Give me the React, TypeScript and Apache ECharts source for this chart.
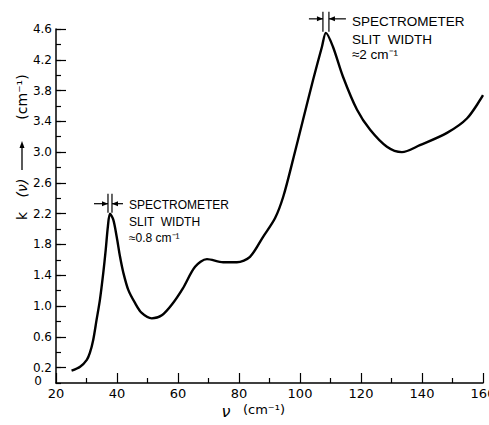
import React, { useEffect, useRef } from "react";
import * as echarts from "echarts";

const nu = [25.1, 27.9, 30.1, 31.1, 32.2, 33.3, 34.4, 35.5, 36.3, 37.0, 37.7, 38.8, 39.9, 41.0, 42.1, 43.7, 45.9, 48.1, 51.4, 54.7, 58.0, 61.6, 65.6, 69.5, 74.8, 79.3, 83.6, 87.9, 91.8, 94.5, 97.7, 101.0, 104.3, 107.2, 108.5, 110.8, 114.1, 118.7, 123.0, 128.5, 133.4, 139.3, 148.2, 154.8, 160.0];
const kNu = [0.16, 0.21, 0.30, 0.39, 0.56, 0.82, 1.08, 1.43, 1.73, 2.03, 2.2, 2.12, 1.9, 1.64, 1.43, 1.21, 1.04, 0.91, 0.84, 0.88, 1.02, 1.23, 1.51, 1.61, 1.57, 1.57, 1.64, 1.9, 2.14, 2.42, 2.9, 3.42, 3.94, 4.37, 4.55, 4.37, 3.98, 3.55, 3.29, 3.07, 3.0, 3.09, 3.25, 3.44, 3.74];

const yLabelValues = [0, 0.2, 0.6, 1.0, 1.4, 1.8, 2.2, 2.6, 3.0, 3.4, 3.8, 4.2, 4.6];
const yMajorTicks = [0.2, 0.6, 1.0, 1.4, 1.8, 2.2, 2.6, 3.0, 3.4, 3.8, 4.2, 4.6];

const peak1 = [37.7, 2.2];
const peak2 = [108.5, 4.55];
const note1 = ["SPECTROMETER", "SLIT  WIDTH", "≈0.8 cm⁻¹"];
const note2 = ["SPECTROMETER", "SLIT  WIDTH", "≈2 cm⁻¹"];

const FONT = "DejaVu Sans";
const AFONT = "Liberation Sans";

function slitMarker(px: number[], gap: number, drop: number, arrowY: number, lLen: number, rLen: number, textX: number, textYs: number[], lines: string[], fs: number) {
  const [x, y] = px;
  const els: any[] = [];
  const ls = { stroke: "#000", lineWidth: 1.2 };
  els.push({ type: "line", shape: { x1: x - gap, y1: y - drop, x2: x - gap, y2: y - 1 }, style: ls });
  els.push({ type: "line", shape: { x1: x + gap, y1: y - drop, x2: x + gap, y2: y - 1 }, style: ls });
  const ay = y + arrowY;
  els.push({ type: "line", shape: { x1: x - gap - lLen, y1: ay, x2: x - gap, y2: ay }, style: ls });
  els.push({ type: "line", shape: { x1: x + gap, y1: ay, x2: x + gap + rLen, y2: ay }, style: ls });
  els.push({ type: "polygon", shape: { points: [[x - gap, ay], [x - gap - 6, ay - 2.5], [x - gap - 6, ay + 2.5]] }, style: { fill: "#000" } });
  els.push({ type: "polygon", shape: { points: [[x + gap, ay], [x + gap + 6, ay - 2.5], [x + gap + 6, ay + 2.5]] }, style: { fill: "#000" } });
  lines.forEach((t, i) => {
    els.push({
      type: "text",
      x: x + textX,
      y: y + textYs[i],
      style: { text: t, fill: "#000", font: `${fs}px "${AFONT}"`, textAlign: "left", textVerticalAlign: "middle" },
    });
  });
  return els;
}

export default function App() {
  const ref = useRef<HTMLDivElement>(null);
  useEffect(() => {
    const chart = echarts.init(ref.current!, null, { renderer: "svg" });
    const option: any = {
      animation: false,
      backgroundColor: "#fff",
      grid: { left: 56, right: 6, top: 29, bottom: 42, containLabel: false, outerBoundsMode: "none" },
      xAxis: {
        type: "value",
        min: 20,
        max: 160,
        interval: 20,
        axisLine: { lineStyle: { color: "#000", width: 1.5 } },
        axisTick: { inside: true, length: 10, lineStyle: { color: "#000", width: 1.2 } },
        minorTick: { show: true, splitNumber: 2, length: 5, lineStyle: { color: "#000", width: 1.2 } },
        axisLabel: { color: "#000", fontSize: 13, fontFamily: FONT, margin: 4, hideOverlap: false },
        splitLine: { show: false },
      },
      yAxis: [
        {
          type: "value",
          min: 0,
          max: 4.6,
          interval: 0.2,
          axisLine: { show: true, lineStyle: { color: "#000", width: 1.5 } },
          axisTick: { inside: true, length: 10, customValues: yMajorTicks, lineStyle: { color: "#000", width: 1.2 } },
          axisLabel: {
            color: "#000",
            fontSize: 12,
            lineHeight: 13,
            fontFamily: FONT,
            margin: 4,
            customValues: yLabelValues,
            formatter: (v: number) => (v === 0 ? "{z|0}" : v.toFixed(1)),
            rich: {
              z: { fontSize: 12, lineHeight: 12, fontFamily: FONT, color: "#000", padding: [0, 10, 5, 0] },
            },
          },
          splitLine: { show: false },
        },
        {
          type: "value",
          position: "left",
          min: 0,
          max: 4.6,
          interval: 0.2,
          axisLine: { show: false },
          axisTick: { show: true, inside: true, length: 5, lineStyle: { color: "#000", width: 1.2 } },
          axisLabel: { show: false },
          splitLine: { show: false },
        },
      ],
      series: [
        {
          type: "line",
          data: nu.map((v, i) => [v, kNu[i]]),
          smooth: 0.3,
          showSymbol: false,
          lineStyle: { color: "#000", width: 2.4 },
          yAxisIndex: 0,
        },
      ],
    };
    chart.setOption(option);
    const p1 = chart.convertToPixel({ gridIndex: 0 }, peak1) as number[];
    const p2 = chart.convertToPixel({ gridIndex: 0 }, peak2) as number[];
    const graphic: any[] = [
      ...slitMarker(p1, 2, 20, -10, 14, 11, 19, [-9, 8, 24], note1, 12),
      ...slitMarker(p2, 3, 21, -14, 14, 17, 26, [-11, 7, 22], note2, 13.5),
      { type: "text", x: 22, y: 216, rotation: Math.PI / 2, style: { text: "k", fill: "#000", font: `14px "${FONT}"`, textAlign: "center", textVerticalAlign: "middle" } },
      { type: "text", x: 22, y: 188, rotation: Math.PI / 2, style: { text: "(ν)", fill: "#000", font: `italic 14px "${FONT}"`, textAlign: "center", textVerticalAlign: "middle" } },
      { type: "line", shape: { x1: 22, y1: 170, x2: 22, y2: 146 }, style: { stroke: "#000", lineWidth: 1.3 } },
      { type: "polygon", shape: { points: [[22, 141], [19.5, 148], [24.5, 148]] }, style: { fill: "#000" } },
      { type: "text", x: 22, y: 97, rotation: Math.PI / 2, style: { text: "(cm⁻¹)", fill: "#000", font: `14px "${FONT}"`, textAlign: "center", textVerticalAlign: "middle" } },
      { type: "text", x: 226, y: 411, style: { text: "ν", fill: "#000", font: `italic 16px "${FONT}"`, textAlign: "center", textVerticalAlign: "middle" } },
      { type: "text", x: 264, y: 409, style: { text: "(cm⁻¹)", fill: "#000", font: `13px "${FONT}"`, textAlign: "center", textVerticalAlign: "middle" } },
    ];
    chart.setOption({ graphic });
    return () => chart.dispose();
  }, []);
  return <div ref={ref} style={{ width: 489, height: 425, position: "absolute", left: 0, top: 0 }} />;
}
